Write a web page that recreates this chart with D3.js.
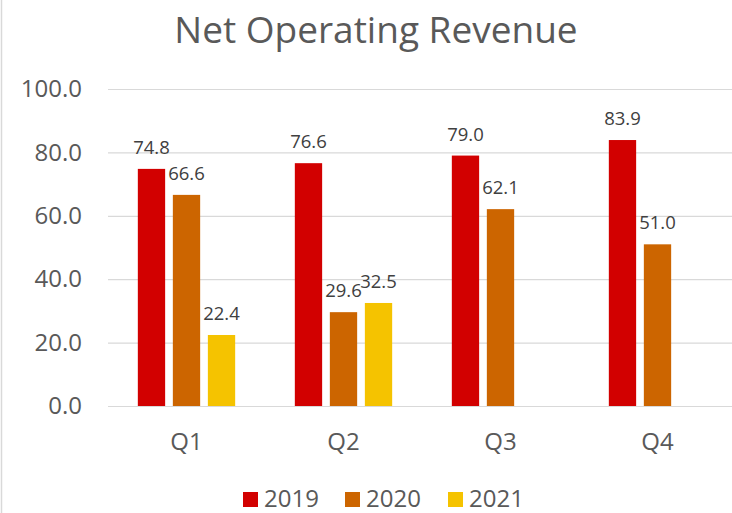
<!DOCTYPE html>
<html>
<head>
<meta charset="utf-8">
<script src="https://cdn.jsdelivr.net/npm/d3@7"></script>
<style>
  html, body { margin: 0; padding: 0; background: #FFFFFF; }
  svg { display: block; }
</style>
</head>
<body>
<script>
const WIDTH = 732;
const HEIGHT = 513;
const FONT = '"Open Sans", "Liberation Sans", sans-serif';
const AXIS_TEXT = '#595959';
const LABEL_TEXT = '#404040';
const GRID = '#D9D9D9';

// data
const quarters = ['Q1', 'Q2', 'Q3', 'Q4'];
const years = ['2019', '2020', '2021'];
const rev2019 = [74.8, 76.6, 79.0, 83.9];
const rev2020 = [66.6, 29.6, 62.1, 51.0];
const rev2021 = [22.4, 32.5, null, null];
const yTicks = [0, 20, 40, 60, 80, 100];
const yearColors = ['#D20000', '#CC6500', '#F5C300'];

const seriesValues = [rev2019, rev2020, rev2021];

const plot = { left: 108, right: 736, top: 89, bottom: 406 };

const svg = d3.select('body').append('svg')
  .attr('width', WIDTH)
  .attr('height', HEIGHT)
  .attr('viewBox', `0 0 ${WIDTH} ${HEIGHT}`);

svg.append('rect')
  .attr('width', WIDTH)
  .attr('height', HEIGHT)
  .attr('fill', '#FFFFFF');

// faint chart border on the left edge
svg.append('line')
  .attr('x1', 1.5).attr('y1', 0)
  .attr('x2', 1.5).attr('y2', HEIGHT)
  .attr('stroke', GRID)
  .attr('stroke-width', 1.5);

const x0 = d3.scaleBand()
  .domain(quarters)
  .range([plot.left, plot.right])
  .paddingInner(0.38)
  .paddingOuter(0.19);

const x1 = d3.scaleBand()
  .domain(years)
  .range([0, x0.bandwidth()])
  .paddingInner(0.22)
  .paddingOuter(0);

const y = d3.scaleLinear()
  .domain([0, 100])
  .range([plot.bottom, plot.top]);

// y axis + gridlines
const yAxis = svg.append('g')
  .attr('transform', `translate(${plot.left},0)`)
  .call(d3.axisLeft(y)
    .tickValues(yTicks)
    .tickFormat(d3.format('.1f'))
    .tickSize(-(plot.right - plot.left))
    .tickPadding(26));
yAxis.select('.domain').remove();
yAxis.selectAll('.tick line')
  .attr('stroke', GRID)
  .attr('stroke-width', 1.2);
yAxis.selectAll('.tick text')
  .attr('fill', AXIS_TEXT)
  .attr('font-size', 24)
  .attr('font-family', FONT);

// x axis labels
const xAxis = svg.append('g')
  .attr('transform', `translate(0,${plot.bottom})`)
  .call(d3.axisBottom(x0).tickSize(0).tickPadding(27));
xAxis.select('.domain').remove();
xAxis.selectAll('.tick text')
  .attr('fill', AXIS_TEXT)
  .attr('font-size', 24)
  .attr('font-family', FONT);

// bars
const rows = [];
quarters.forEach((q, qi) => {
  years.forEach((yr, si) => {
    const v = seriesValues[si][qi];
    if (v != null) rows.push({ q, yr, si, v });
  });
});

const groups = svg.append('g');
groups.selectAll('rect.bar')
  .data(rows)
  .join('rect')
  .attr('class', 'bar')
  .attr('x', d => x0(d.q) + x1(d.yr))
  .attr('y', d => y(d.v))
  .attr('width', x1.bandwidth())
  .attr('height', d => y(0) - y(d.v))
  .attr('fill', d => yearColors[d.si]);

groups.selectAll('text.val')
  .data(rows)
  .join('text')
  .attr('class', 'val')
  .attr('x', d => x0(d.q) + x1(d.yr) + x1.bandwidth() / 2)
  .attr('y', d => y(d.v) - 15)
  .attr('text-anchor', 'middle')
  .attr('fill', LABEL_TEXT)
  .attr('font-size', 18.5)
  .attr('font-family', FONT)
  .text(d => d3.format('.1f')(d.v));

// title
svg.append('text')
  .attr('x', 376)
  .attr('y', 43)
  .attr('text-anchor', 'middle')
  .attr('fill', AXIS_TEXT)
  .attr('font-size', 37)
  .attr('font-family', FONT)
  .text('Net Operating Revenue');

// legend
const legendX = [243, 345, 448];
const legend = svg.append('g');
years.forEach((yr, i) => {
  legend.append('rect')
    .attr('x', legendX[i])
    .attr('y', 492)
    .attr('width', 15)
    .attr('height', 15)
    .attr('fill', yearColors[i]);
  legend.append('text')
    .attr('x', legendX[i] + 21)
    .attr('y', 507)
    .attr('fill', AXIS_TEXT)
    .attr('font-size', 24)
    .attr('font-family', FONT)
    .text(yr);
});
</script>
</body>
</html>
